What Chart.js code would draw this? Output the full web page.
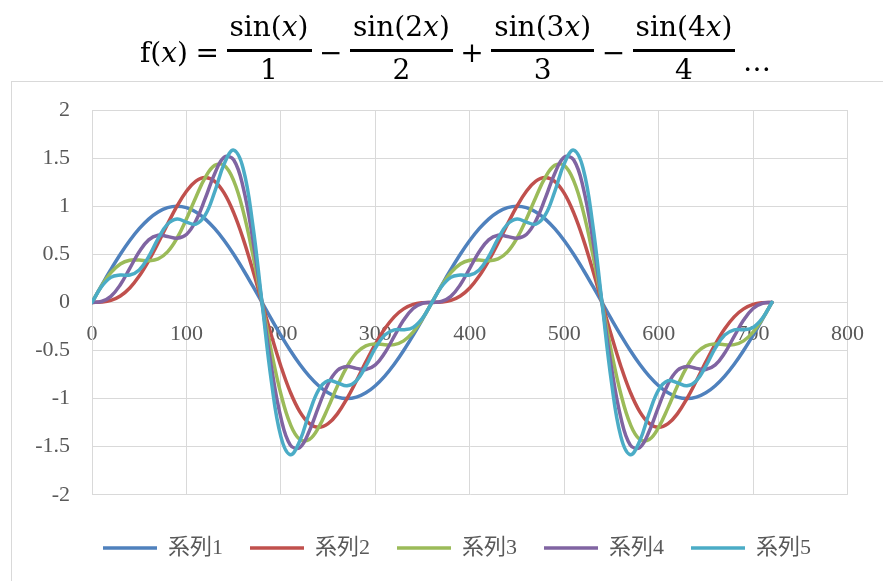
<!DOCTYPE html>
<html>
<head>
<meta charset="utf-8">
<script src="https://cdn.jsdelivr.net/npm/chart.js@4.4.1/dist/chart.umd.min.js"></script>
<style>
    body { margin: 0; background: #fff; width: 883px; height: 581px; overflow: hidden; position: relative; }
    #frame { position: absolute; left: 11px; top: 81px; width: 900px; height: 600px; border: 1px solid #d9d9d9; }
    #chart { position: absolute; left: 0; top: 0; }
    #title {
        position: absolute; left: 140px; top: 12px; height: 80px; z-index: 2;
        display: flex; align-items: center; gap: 7.5px;
        font-family: "DejaVu Serif", serif; font-size: 28px; color: #000;
    }
    #title i { font-style: italic; }
    .frac { display: flex; flex-direction: column; align-items: center; }
    .num { line-height: 30px; padding: 0 3px 7px 3px; border-bottom: 3px solid #000; }
    .den { line-height: 30px; padding: 3px 0 7px 0; }
    .dots { margin-top: 18px; }
</style>
</head>
<body>
<div id="frame"></div>
<div id="title">
    <span>f(<i>x</i>)</span>
    <span>=</span>
    <span class="frac"><span class="num">sin(<i>x</i>)</span><span class="den">1</span></span>
    <span>−</span>
    <span class="frac"><span class="num">sin(2<i>x</i>)</span><span class="den">2</span></span>
    <span>+</span>
    <span class="frac"><span class="num">sin(3<i>x</i>)</span><span class="den">3</span></span>
    <span>−</span>
    <span class="frac"><span class="num">sin(4<i>x</i>)</span><span class="den">4</span></span>
    <span class="dots">…</span>
</div>
<canvas id="chart" width="883" height="581"></canvas>
<script>
// x in degrees
const xs = [0, 10, 20, 30, 40, 50, 60, 70, 80, 90, 100, 110, 120, 130, 140, 150, 160, 170, 180,
    190, 200, 210, 220, 230, 240, 250, 260, 270, 280, 290, 300, 310, 320, 330, 340, 350, 360,
    370, 380, 390, 400, 410, 420, 430, 440, 450, 460, 470, 480, 490, 500, 510, 520, 530, 540,
    550, 560, 570, 580, 590, 600, 610, 620, 630, 640, 650, 660, 670, 680, 690, 700, 710, 720];

const series1 = [0, 0.174, 0.342, 0.5, 0.643, 0.766, 0.866, 0.94, 0.985, 1, 0.985, 0.94, 0.866, 0.766, 0.643, 0.5, 0.342, 0.174, 0,
    -0.174, -0.342, -0.5, -0.643, -0.766, -0.866, -0.94, -0.985, -1, -0.985, -0.94, -0.866, -0.766, -0.643, -0.5, -0.342, -0.174, 0,
    0.174, 0.342, 0.5, 0.643, 0.766, 0.866, 0.94, 0.985, 1, 0.985, 0.94, 0.866, 0.766, 0.643, 0.5, 0.342, 0.174, 0,
    -0.174, -0.342, -0.5, -0.643, -0.766, -0.866, -0.94, -0.985, -1, -0.985, -0.94, -0.866, -0.766, -0.643, -0.5, -0.342, -0.174, 0];

const series2 = [0, 0.003, 0.021, 0.067, 0.15, 0.274, 0.433, 0.618, 0.814, 1, 1.156, 1.261, 1.299, 1.258, 1.135, 0.933, 0.663, 0.345, 0,
    -0.345, -0.663, -0.933, -1.135, -1.258, -1.299, -1.261, -1.156, -1, -0.814, -0.618, -0.433, -0.274, -0.15, -0.067, -0.021, -0.003, 0,
    0.003, 0.021, 0.067, 0.15, 0.274, 0.433, 0.618, 0.814, 1, 1.156, 1.261, 1.299, 1.258, 1.135, 0.933, 0.663, 0.345, 0,
    -0.345, -0.663, -0.933, -1.135, -1.258, -1.299, -1.261, -1.156, -1, -0.814, -0.618, -0.433, -0.274, -0.15, -0.067, -0.021, -0.003, 0];

const series3 = [0, 0.169, 0.309, 0.4, 0.439, 0.44, 0.433, 0.452, 0.525, 0.667, 0.867, 1.094, 1.299, 1.425, 1.424, 1.266, 0.952, 0.511, 0,
    -0.511, -0.952, -1.266, -1.424, -1.425, -1.299, -1.094, -0.867, -0.667, -0.525, -0.452, -0.433, -0.44, -0.439, -0.4, -0.309, -0.169, 0,
    0.169, 0.309, 0.4, 0.439, 0.44, 0.433, 0.452, 0.525, 0.667, 0.867, 1.094, 1.299, 1.425, 1.424, 1.266, 0.952, 0.511, 0,
    -0.511, -0.952, -1.266, -1.424, -1.425, -1.299, -1.094, -0.867, -0.667, -0.525, -0.452, -0.433, -0.44, -0.439, -0.4, -0.309, -0.169, 0];

const series4 = [0, 0.009, 0.063, 0.184, 0.354, 0.526, 0.65, 0.698, 0.686, 0.667, 0.706, 0.848, 1.083, 1.34, 1.509, 1.483, 1.198, 0.672, 0,
    -0.672, -1.198, -1.483, -1.509, -1.34, -1.083, -0.848, -0.706, -0.667, -0.686, -0.698, -0.65, -0.526, -0.354, -0.184, -0.063, -0.009, 0,
    0.009, 0.063, 0.184, 0.354, 0.526, 0.65, 0.698, 0.686, 0.667, 0.706, 0.848, 1.083, 1.34, 1.509, 1.483, 1.198, 0.672, 0,
    -0.672, -1.198, -1.483, -1.509, -1.34, -1.083, -0.848, -0.706, -0.667, -0.686, -0.698, -0.65, -0.526, -0.354, -0.184, -0.063, -0.009, 0];

const series5 = [0, 0.162, 0.26, 0.284, 0.285, 0.338, 0.476, 0.663, 0.814, 0.867, 0.835, 0.814, 0.909, 1.152, 1.441, 1.583, 1.395, 0.825, 0,
    -0.825, -1.395, -1.583, -1.441, -1.152, -0.909, -0.814, -0.835, -0.867, -0.814, -0.663, -0.476, -0.338, -0.285, -0.284, -0.26, -0.162, 0,
    0.162, 0.26, 0.284, 0.285, 0.338, 0.476, 0.663, 0.814, 0.867, 0.835, 0.814, 0.909, 1.152, 1.441, 1.583, 1.395, 0.825, 0,
    -0.825, -1.395, -1.583, -1.441, -1.152, -0.909, -0.814, -0.835, -0.867, -0.814, -0.663, -0.476, -0.338, -0.285, -0.284, -0.26, -0.162, 0];

const seriesNames = ["系列1", "系列2", "系列3", "系列4", "系列5"];
const seriesColors = ["#4f81bd", "#c0504d", "#9bbb59", "#8064a2", "#4bacc6"];
const allSeries = [series1, series2, series3, series4, series5];

const tickFont = {family: '"Liberation Serif", "Noto Sans CJK JP", serif', size: 22};
const gridColor = "#d9d9d9";

const datasets = allSeries.map((ys, i) => ({
    label: seriesNames[i],
    data: ys.map((y, j) => ({x: xs[j], y: y})),
    borderColor: seriesColors[i],
    backgroundColor: seriesColors[i],
    borderWidth: 3.5,
    borderCapStyle: "round",
    pointRadius: 0,
    pointStyle: "line",
    tension: 0.4,
    order: allSeries.length - i, // later series on top, like the original
}));

// the legend sits a bit right of the canvas centre in the original
const legendShift = {
    id: "legendShift",
    afterLayout(chart) {
        chart.legend.left += 33;
        chart.legend.right += 33;
    },
};

const ctx = document.getElementById("chart").getContext("2d");
new Chart(ctx, {
    type: "line",
    data: {datasets: datasets},
    plugins: [legendShift],
    options: {
        responsive: false,
        animation: false,
        layout: {padding: {top: 110, right: 35, bottom: 12, left: 0}},
        scales: {
            x: {
                type: "linear", position: {y: 0}, min: 0, max: 800,
                ticks: {stepSize: 100, color: "#595959", font: tickFont, padding: 19, maxRotation: 0},
                grid: {color: gridColor, drawTicks: false},
                border: {color: gridColor},
            },
            y: {
                min: -2, max: 2,
                ticks: {stepSize: 0.5, color: "#595959", font: tickFont, padding: 22, callback: (v) => String(v)},
                grid: {color: gridColor, drawTicks: false},
                border: {color: gridColor},
                afterFit: (scale) => { scale.width = 92; },
            },
        },
        plugins: {
            tooltip: {enabled: false},
            legend: {
                position: "bottom",
                title: {display: true, text: "", font: {size: 1}, padding: {top: 14, bottom: 0}},
                labels: {
                    usePointStyle: true, pointStyleWidth: 54,
                    color: "#595959", font: {family: '"Liberation Serif", "Noto Sans CJK JP", serif', size: 22},
                    padding: 27,
                    sort: (a, b) => a.datasetIndex - b.datasetIndex,
                },
            },
        },
    },
});
</script>
</body>
</html>
